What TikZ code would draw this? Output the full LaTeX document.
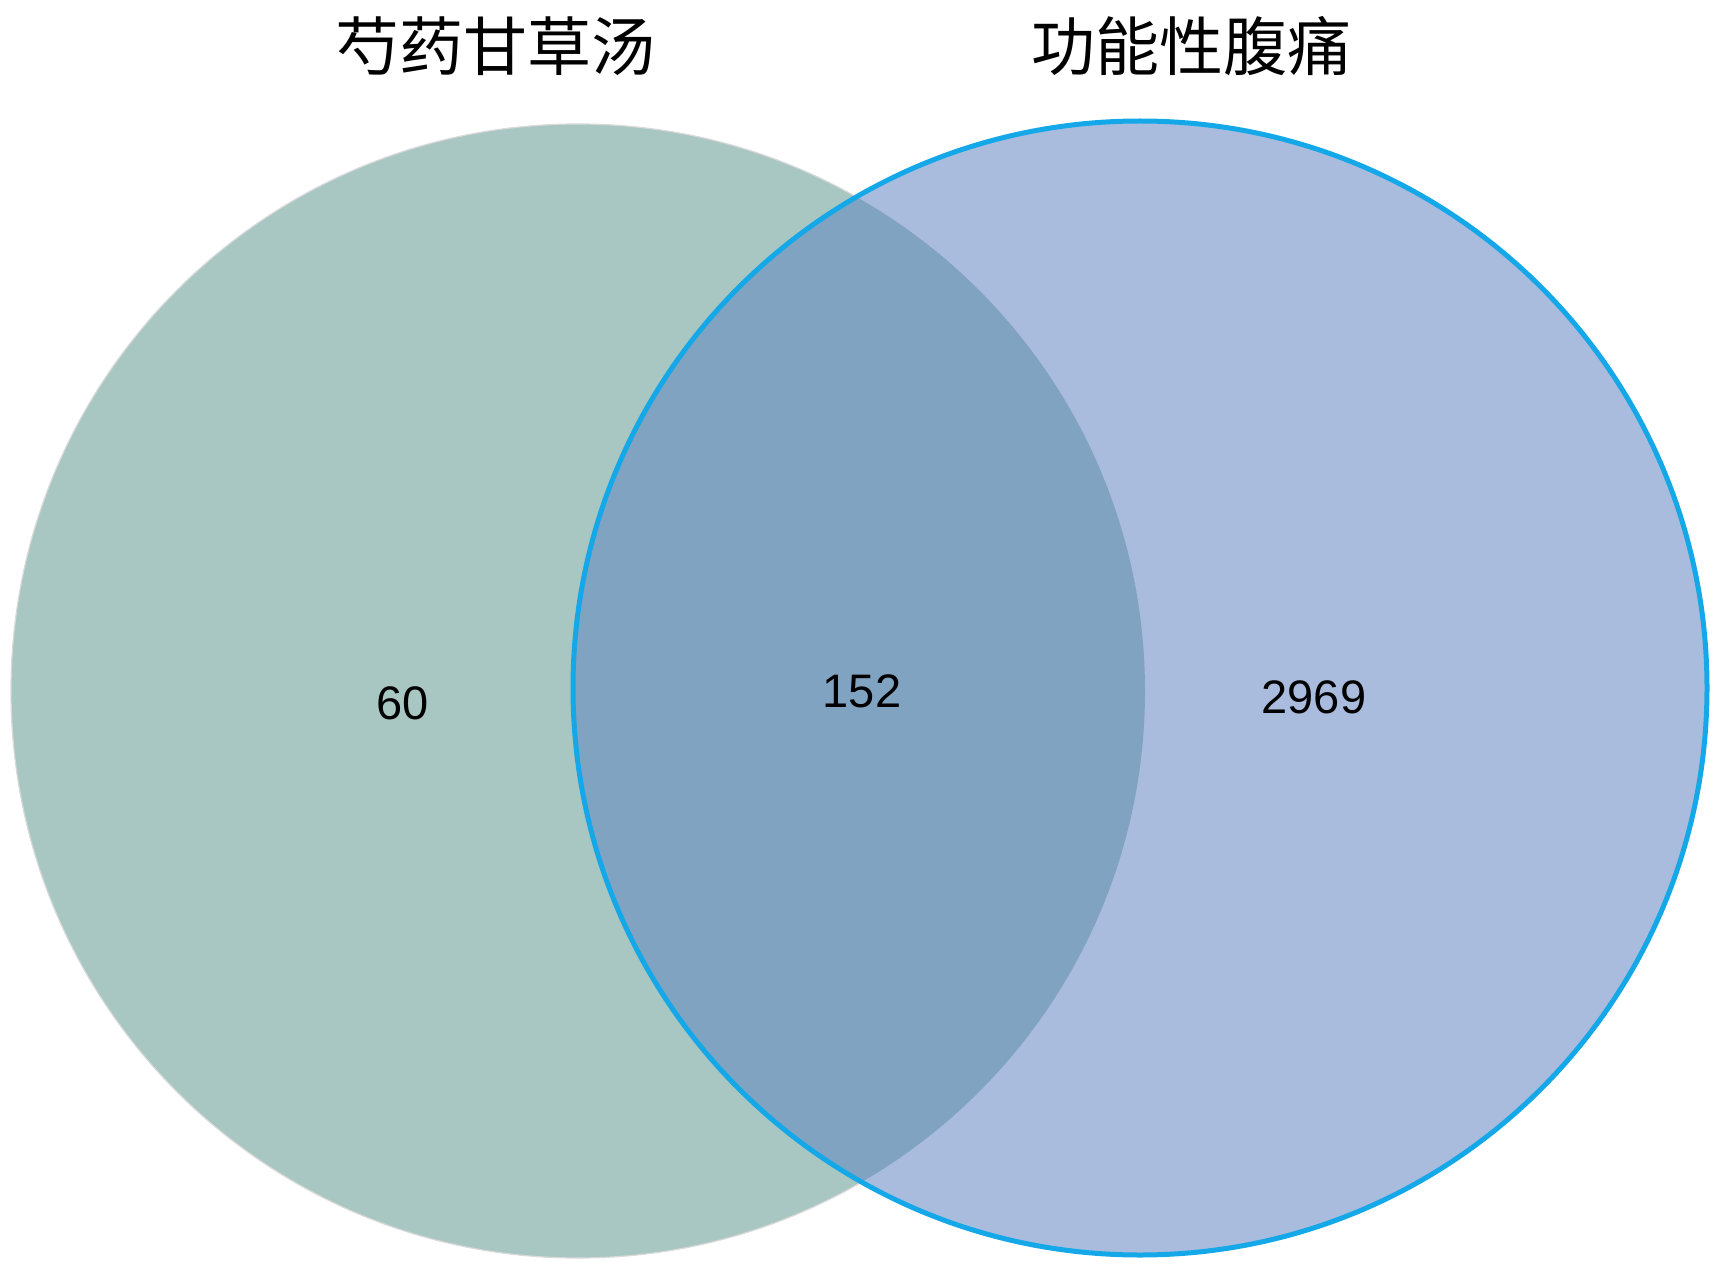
\documentclass[tikz,border=0pt]{standalone}
\usepackage{fontspec}
\setmainfont{Liberation Sans}
\newfontfamily\cjk{Noto Sans CJK SC}
\usepackage{tikz}
\usetikzlibrary{positioning}
\definecolor{herbfill}{HTML}{A9C7C2}
\definecolor{painfill}{HTML}{AABCDD}
\definecolor{bothfill}{HTML}{80A3C1}
\definecolor{painline}{HTML}{14A8E8}

\begin{document}
\begin{tikzpicture}[x=1pt,y=-1pt,
  title/.style={font=\cjk\fontsize{64}{72}\selectfont,inner sep=0pt},
  count/.style={font=\fontsize{47}{56}\selectfont,inner sep=0pt}]
\useasboundingbox (0,0) rectangle (1717,1268);
\coordinate (cl) at (578,691);
\coordinate (cr) at (1140,688);
\fill[herbfill,draw=black!15,line width=1.2pt] (cl) circle[radius=567pt];
\fill[painfill] (cr) circle[radius=567pt];
\begin{scope}
  \clip (cl) circle[radius=567pt];
  \fill[bothfill] (cr) circle[radius=567pt];
\end{scope}
\draw[painline,line width=5pt] (cr) circle[radius=567pt];
\node[title] (herb) at (495,46) {芍药甘草汤};
\node[title] (pain) at (1191,46) {功能性腹痛};
\node[count] (only1) at (403,703) {60};
\node[count] (both) at (862,691) {152};
\node[count] (only2) at (1314,697) {2969};
\end{tikzpicture}
\end{document}
